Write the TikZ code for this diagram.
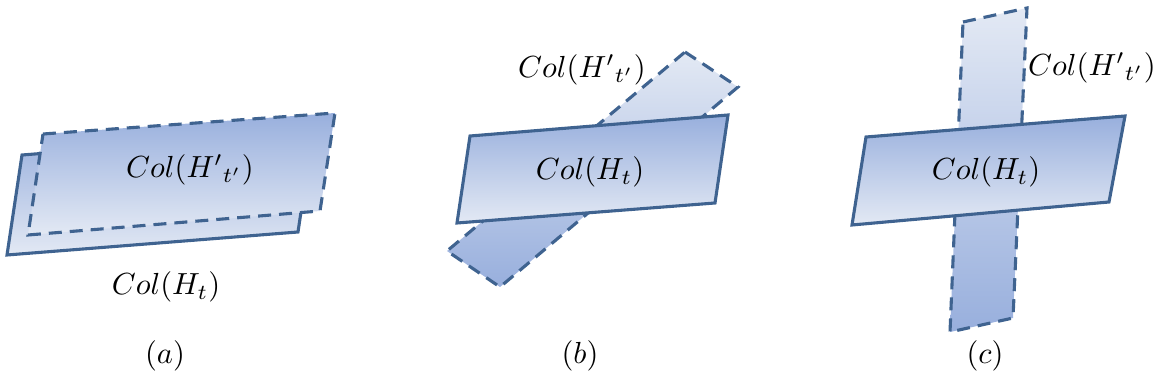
\documentclass[tikz,border=0pt]{standalone}
\usepackage{graphicx}
\begin{document}
\begin{tikzpicture}[x=1pt,y=-1pt,
  lbl/.style={text=black, inner sep=0pt},
  plane/.style={draw=edgeblue, line width=3.1pt, line join=miter},
  dplane/.style={plane, dash pattern=on 13pt off 8pt},
  darktop/.style={top color=darkfill, bottom color=lightfill},
  lighttop/.style={top color=lightfill, bottom color=darkfill}]
\definecolor{edgeblue}{HTML}{3F6390}
\definecolor{darkfill}{HTML}{98AFDD}
\definecolor{lightfill}{HTML}{E3E9F4}
\newcommand{\bigmathlbl}[1]{\scalebox{3.05}{$#1$}}
\useasboundingbox (0,0) rectangle (1157,387);
% ---------- (a) ----------
\draw[plane, darktop] (22,155) -- (313,132) -- (298,232) -- (7,255) -- cycle;
\draw[dplane, darktop] (43,134) -- (335,113) -- (320,211) -- (28,235) -- cycle;
\node[lbl] (a1) at (190,170) {\bigmathlbl{Col({H'}_{t'})}};
\node[lbl] (a2) at (166,287) {\bigmathlbl{Col(H_t)}};
\node[lbl] (la) at (165,356) {\bigmathlbl{(a)}};
% ---------- (b) ----------
\draw[dplane, lighttop] (685,52) -- (738,87) -- (500,287) -- (447,251) -- cycle;
\draw[plane, darktop] (470,136) -- (728,115) -- (715,203) -- (457,223) -- cycle;
\node[lbl] (b1) at (582,70) {\bigmathlbl{Col({H'}_{t'})}};
\node[lbl] (b2) at (590,172) {\bigmathlbl{Col(H_t)}};
\node[lbl] (lb) at (580,356) {\bigmathlbl{(b)}};
% ---------- (c) ----------
\draw[dplane, lighttop] (963,22) -- (1027,8) -- (1013,318) -- (950,332) -- cycle;
\draw[plane, darktop] (866,137) -- (1125,116) -- (1109,202) -- (852,225) -- cycle;
\node[lbl] (c1) at (1092,68) {\bigmathlbl{Col({H'}_{t'})}};
\node[lbl] (c2) at (986,172) {\bigmathlbl{Col(H_t)}};
\node[lbl] (lc) at (985,356) {\bigmathlbl{(c)}};
\end{tikzpicture}
\end{document}
